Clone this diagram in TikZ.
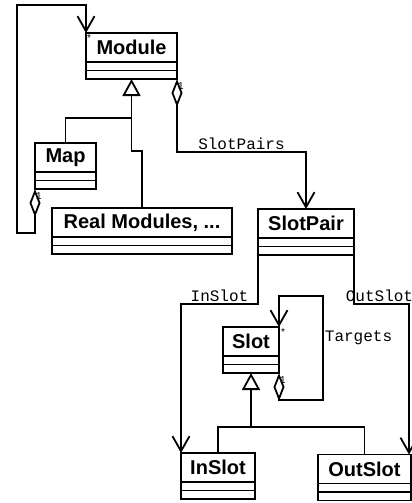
\documentclass[tikz,border=0pt]{standalone}
\usepackage{fontspec}
\setmainfont{Liberation Sans}
\setmonofont{Liberation Mono}
\usetikzlibrary{arrows.meta,positioning}

\begin{document}
\begin{tikzpicture}[
    x=1pt, y=-1pt,
    % Class box styles
    classname/.style={rectangle, draw, line width=1.8pt, outer sep=0pt, inner sep=0pt,
        minimum height=29pt, text centered, font=\fontsize{20}{20}\selectfont\bfseries},
    classpart/.style={rectangle, draw, line width=1.8pt, outer sep=0pt, inner sep=0pt,
        minimum height=8.5pt},
    % Connector styles
    conn/.style={line width=1.8pt},
    assoc/.style={conn, -{Straight Barb[length=15pt, width=17pt]}},
    agg/.style={conn, {Diamond[open, length=28pt, width=11pt]}-{Straight Barb[length=15pt, width=17pt]}},
    gen/.style={conn, -{Triangle[open, length=17pt, width=18pt]}},
    rolename/.style={font=\ttfamily\fontsize{16}{16}\selectfont, inner sep=1pt},
    mult/.style={font=\fontsize{10}{10}\selectfont, inner sep=1pt}
]
    \useasboundingbox (0,0) rectangle (412,503);

    % Classes
    \node[classname, minimum width=91pt] (module) at (131.5,47.5) {Module};
    \node[classpart, minimum width=91pt, below=0pt of module] (module-a) {};
    \node[classpart, minimum width=91pt, below=0pt of module-a] (module-o) {};

    \node[classname, minimum width=61pt] (map) at (65.5,157.5) {Map};
    \node[classpart, minimum width=61pt, below=0pt of map] (map-a) {};
    \node[classpart, minimum width=61pt, below=0pt of map-a] (map-o) {};

    \node[classname, minimum width=180pt] (real) at (142,222.5) {Real Modules, ...};
    \node[classpart, minimum width=180pt, below=0pt of real] (real-a) {};
    \node[classpart, minimum width=180pt, below=0pt of real-a] (real-o) {};

    \node[classname, minimum width=96pt] (slotpair) at (306,223.5) {SlotPair};
    \node[classpart, minimum width=96pt, below=0pt of slotpair] (slotpair-a) {};
    \node[classpart, minimum width=96pt, below=0pt of slotpair-a] (slotpair-o) {};

    \node[classname, minimum width=56pt] (slot) at (251,341.5) {Slot};
    \node[classpart, minimum width=56pt, below=0pt of slot] (slot-a) {};
    \node[classpart, minimum width=56pt, below=0pt of slot-a] (slot-o) {};

    \node[classname, minimum width=74pt] (inslot) at (218,467.5) {InSlot};
    \node[classpart, minimum width=74pt, below=0pt of inslot] (inslot-a) {};
    \node[classpart, minimum width=74pt, below=0pt of inslot-a] (inslot-o) {};

    \node[classname, minimum width=93pt] (outslot) at (364.5,469) {OutSlot};
    \node[classpart, minimum width=93pt, below=0pt of outslot] (outslot-a) {};
    \node[classpart, minimum width=93pt, below=0pt of outslot-a] (outslot-o) {};

    % Bend points
    \coordinate (maploop) at (17,5);
    \coordinate (modjoin) at ([yshift=-39pt]module-o.south);
    \coordinate (slotjoin) at ([yshift=-54pt]slot-o.south);
    \coordinate (targetloop) at (323,296);

    % Module aggregation (Map contains modules)
    \draw[agg] (map-o.south west) -- ++(0,44) -| (maploop) -| (module.north west);
    \node[mult, anchor=north west] at (module.north west) {*};
    \node[mult, anchor=north west] at ([yshift=-2pt]map-o.south west) {1};

    % Module inheritance
    \draw[gen] (modjoin) -- (module-o.south);
    \draw[conn] (map.north) |- (modjoin);
    \draw[conn] (real.north) -- ++(0,-57) -| (modjoin);

    % SlotPairs
    \draw[agg] (module-o.south east) -- ++(0,73) -| (slotpair.north)
        node[rolename, pos=0.25, above] {SlotPairs};
    \node[mult, anchor=north west] at ([yshift=-2pt]module-o.south east) {1};

    % InSlot / OutSlot roles
    \draw[assoc] (slotpair-o.south west) -- ++(0,49) -| (inslot.north west)
        node[rolename, pos=0.25, above] {InSlot};
    \draw[assoc] (slotpair-o.south east) -- ++(0,49) -| ([xshift=-2pt]outslot.north east)
        node[rolename, pos=0.25, above, xshift=-2pt] {OutSlot};

    % Slot targets
    \draw[agg] (slot-o.south east) -- ++(0,27) -| (targetloop)
        node[rolename, pos=0.8, anchor=west] {Targets} -| (slot.north east);
    \node[mult, anchor=north west] at ([xshift=1pt]slot.north east) {*};
    \node[mult, anchor=north west] at ([yshift=-2pt]slot-o.south east) {1};

    % Slot inheritance
    \draw[gen] (slotjoin) -- (slot-o.south);
    \draw[conn] (inslot.north) |- (slotjoin) -| (outslot.north);
\end{tikzpicture}
\end{document}
